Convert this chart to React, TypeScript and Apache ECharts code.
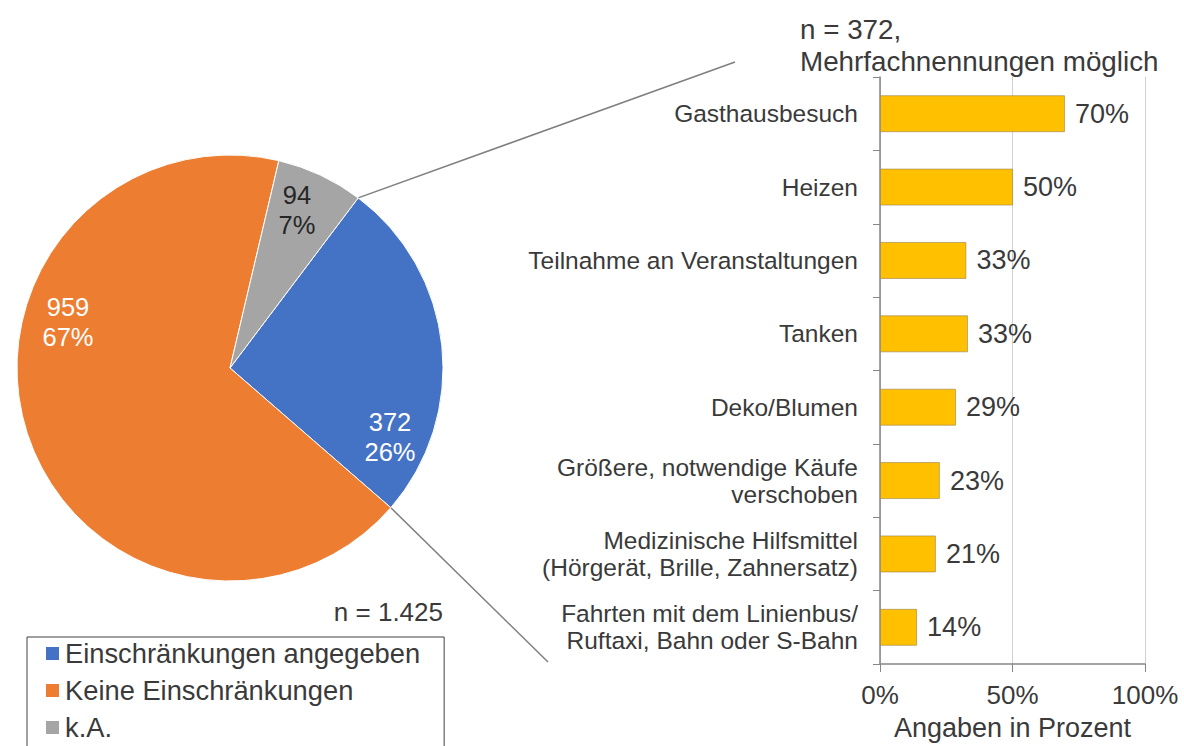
import React, { useEffect, useRef } from "react";
import * as echarts from "echarts";

const pieNames = ["Einschränkungen angegeben", "Keine Einschränkungen", "k.A."];
const pieValues = [372, 959, 94];
const pieColors = ["#4472C4", "#ED7D31", "#A5A5A5"];
const pieLabelColors = ["#ffffff", "#ffffff", "#262626"];

const barCategories = [
  "Gasthausbesuch",
  "Heizen",
  "Teilnahme an Veranstaltungen",
  "Tanken",
  "Deko/Blumen",
  "Größere, notwendige Käufe\nverschoben",
  "Medizinische Hilfsmittel\n(Hörgerät, Brille, Zahnersatz)",
  "Fahrten mit dem Linienbus/\nRuftaxi, Bahn oder S-Bahn",
];
const barValues = [69.8, 50.2, 32.6, 33.2, 28.7, 22.6, 21.1, 14.0];
const xTicks = [0, 50, 100];

const FONT = "'Liberation Sans', Arial, sans-serif";
const TXT = "#3a3a3a";

export default function App() {
  const ref = useRef<HTMLDivElement>(null);
  useEffect(() => {
    if (!ref.current) return;
    const chart = echarts.init(ref.current, null, { renderer: "svg" });
    const cx = 230;
    const cy = 368;
    const R = 213;
    const startAngle = 53;
    const total = pieValues.reduce((a, b) => a + b, 0);
    const endBlue = startAngle - (360 * pieValues[0]) / total;
    const pt = (deg: number) => {
      const r = (deg * Math.PI) / 180;
      return [cx + R * Math.cos(r), cy - R * Math.sin(r)];
    };
    const p1 = pt(startAngle);
    const p2 = pt(endBlue);
    const labelOffsets = [
      [160, 69],
      [-162, -46],
      [67, -158],
    ];

    chart.setOption({
      animation: false,
      textStyle: { fontFamily: FONT },
      legend: {
        orient: "vertical",
        left: 27,
        top: 637,
        height: 140,
        padding: [3, 24, 12, 17],
        itemGap: 10,
        itemWidth: 15,
        itemHeight: 15,
        icon: "rect",
        borderColor: "#404040",
        borderWidth: 1,
        data: pieNames,
        textStyle: { fontSize: 27.3, color: TXT, fontFamily: FONT },
      },
      grid: { left: 880, right: 39, top: 77, bottom: 73, containLabel: false },
      xAxis: {
        type: "value",
        min: 0,
        max: 100,
        interval: 50,
        axisLine: { show: true, lineStyle: { color: "#868686", width: 1.5 } },
        axisTick: { show: true, length: 8, lineStyle: { color: "#868686" } },
        splitLine: { show: true, lineStyle: { color: "#d0d0d0" } },
        axisLabel: {
          formatter: (v: number) => (xTicks.includes(v) ? v + "%" : ""),
          fontSize: 26,
          color: TXT,
          margin: 18,
          fontFamily: FONT,
        },
        name: "Angaben in Prozent",
        nameLocation: "middle",
        nameGap: 50,
        nameTextStyle: { fontSize: 27, color: TXT, fontFamily: FONT },
      },
      yAxis: {
        type: "category",
        inverse: true,
        data: barCategories,
        axisLine: { show: true, lineStyle: { color: "#868686", width: 1.5 } },
        axisTick: { show: true, length: 7, lineStyle: { color: "#868686" } },
        axisLabel: {
          fontSize: 24.5,
          color: TXT,
          margin: 22,
          lineHeight: 27,
          fontFamily: FONT,
          align: "right",
        },
      },
      series: [
        {
          type: "bar",
          data: barValues,
          barWidth: 37,
          itemStyle: { color: "#FFC000", borderColor: "rgba(150,130,80,0.6)", borderWidth: 1 },
          label: {
            show: true,
            position: "right",
            distance: 10,
            formatter: (p: any) => Math.round(p.value) + "%",
            fontSize: 27,
            color: TXT,
            fontFamily: FONT,
          },
        },
        {
          type: "pie",
          center: [cx, cy],
          radius: R,
          startAngle,
          clockwise: true,
          data: pieNames.map((n, i) => ({
            name: n,
            value: pieValues[i],
            itemStyle: { color: pieColors[i] },
            label: { color: pieLabelColors[i] },
          })),
          itemStyle: { borderColor: "#ffffff", borderWidth: 1 },
          label: {
            show: true,
            position: "inside",
            formatter: (p: any) => `${p.value}\n${Math.round(p.percent)}%`,
            fontSize: 25.5,
            lineHeight: 30,
            align: "center",
            fontFamily: FONT,
          },
          labelLine: { show: false },
          labelLayout: (params: any) => {
            const o = labelOffsets[params.dataIndex];
            return { x: cx + o[0], y: cy + o[1], align: "center", verticalAlign: "middle" };
          },
          emphasis: { disabled: true },
        },
      ],
      graphic: [
        {
          type: "line",
          shape: { x1: p1[0], y1: p1[1], x2: 735, y2: 62 },
          style: { stroke: "#7f7f7f", lineWidth: 1.5 },
        },
        {
          type: "line",
          shape: { x1: p2[0], y1: p2[1], x2: 548, y2: 662 },
          style: { stroke: "#7f7f7f", lineWidth: 1.5 },
        },
        {
          type: "text",
          left: 800,
          top: 13,
          style: {
            text: "n = 372,\nMehrfachnennungen möglich",
            fontSize: 27.8,
            lineHeight: 32,
            fill: TXT,
            fontFamily: FONT,
          },
        },
        {
          type: "text",
          right: 1184 - 443,
          top: 599,
          style: { text: "n = 1.425", fontSize: 26, fill: TXT, fontFamily: FONT },
        },
      ],
    });
    return () => chart.dispose();
  }, []);
  return (
    <div
      ref={ref}
      style={{ position: "fixed", left: 0, top: 0, width: 1184, height: 746, background: "#fff" }}
    />
  );
}
